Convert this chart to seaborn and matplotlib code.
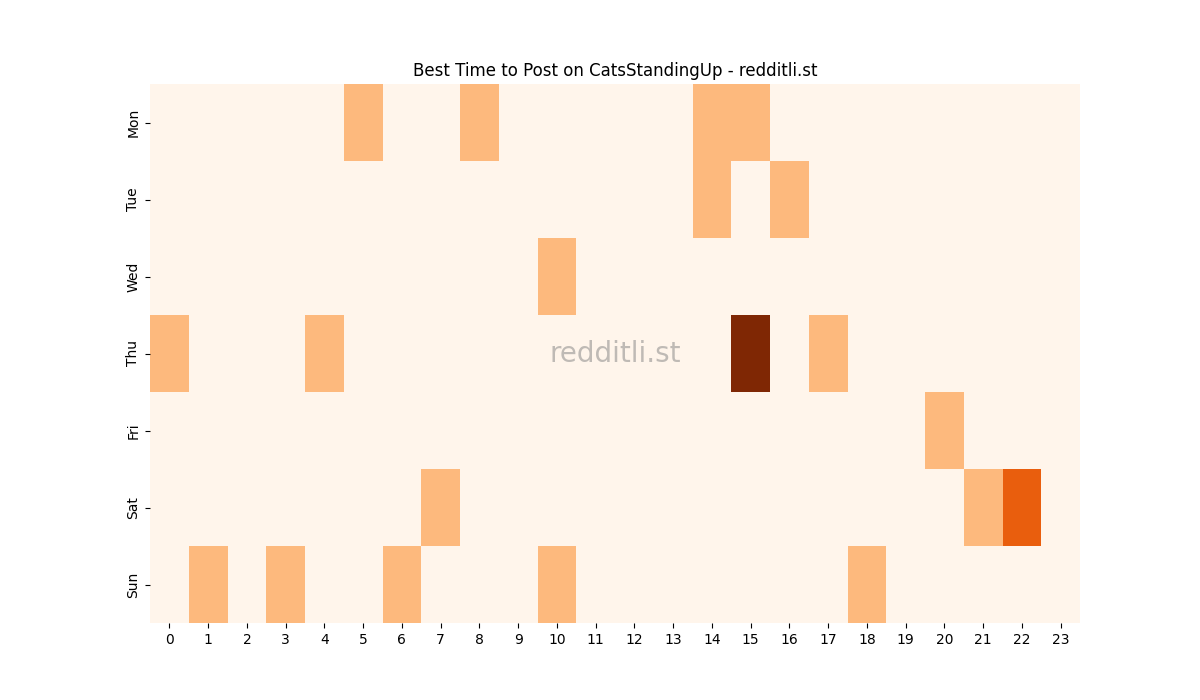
import matplotlib
matplotlib.use("Agg")
import matplotlib.pyplot as plt
import numpy as np
import pandas as pd
import seaborn as sns

# Days and hours
days = ["Mon", "Tue", "Wed", "Thu", "Fri", "Sat", "Sun"]
hours = list(range(24))

# Post counts per (day, hour); all other cells are 0
mon = {5: 1, 8: 1, 14: 1, 15: 1}
tue = {14: 1, 16: 1}
wed = {10: 1}
thu = {0: 1, 4: 1, 15: 3, 17: 1}
fri = {20: 1}
sat = {7: 1, 21: 1, 22: 2}
sun = {1: 1, 3: 1, 6: 1, 10: 1, 18: 1}

rows = [mon, tue, wed, thu, fri, sat, sun]
grid = np.zeros((len(days), len(hours)))
for i, r in enumerate(rows):
    for h, v in r.items():
        grid[i, h] = v

df = pd.DataFrame(grid, index=days, columns=hours)

fig, ax = plt.subplots(figsize=(12, 7), dpi=100)
sns.heatmap(df, cmap="Oranges", cbar=False, ax=ax)
ax.set_title("Best Time to Post on CatsStandingUp - redditli.st")
ax.tick_params(axis="x", rotation=0)
ax.text(0.5, 0.5, "redditli.st", transform=ax.transAxes, ha="center", va="center",
        fontsize=20, color="gray", alpha=0.5)

fig.savefig("out.png")
